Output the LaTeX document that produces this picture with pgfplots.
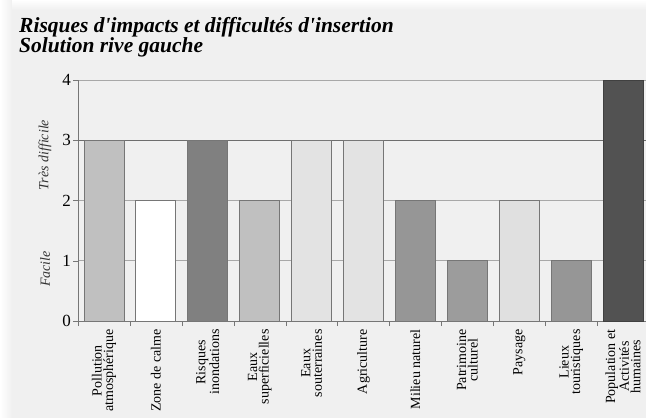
\documentclass[border=0pt]{standalone}
\usepackage{fontspec}
\setmainfont{Liberation Serif}[Ligatures=TeXOff]
\usepackage{pgfplots}
\pgfplotsset{compat=1.18}
\definecolor{bg}{HTML}{F0F0F0}
\definecolor{gridc}{HTML}{A8A8A8}
\definecolor{gridd}{HTML}{6E6E6E}
\definecolor{bd}{HTML}{767676}
\definecolor{cA}{HTML}{C0C0C0}
\definecolor{cB}{HTML}{FFFFFF}
\definecolor{cC}{HTML}{808080}
\definecolor{cD}{HTML}{C0C0C0}
\definecolor{cE}{HTML}{E3E3E3}
\definecolor{cF}{HTML}{E3E3E3}
\definecolor{cG}{HTML}{969696}
\definecolor{cH}{HTML}{9C9C9C}
\definecolor{cI}{HTML}{E0E0E0}
\definecolor{cJ}{HTML}{969696}
\definecolor{cK}{HTML}{525252}
\begin{document}
\begin{tikzpicture}[x=1pt,y=1pt]
\useasboundingbox (0,0) rectangle (646,418);
\fill[bg] (0,0) rectangle (646,418);
\shade[left color=white,right color=bg] (0,0) rectangle (12,418);
\shade[top color=white,bottom color=bg] (12,408) rectangle (646,418);
\node[anchor=base west, inner sep=0pt,
  font=\fontsize{21.5}{22}\selectfont\bfseries\itshape] at (19,385)
  {Risques d'impacts et difficultés d'insertion};
\node[anchor=base west, inner sep=0pt,
  font=\fontsize{21.5}{22}\selectfont\bfseries\itshape] at (19,365)
  {Solution rive gauche};
\node[rotate=90, font=\fontsize{14}{14}\selectfont\itshape, text=black!80] at (45,263) {Très difficile};
\node[rotate=90, font=\fontsize{14}{14}\selectfont\itshape, text=black!80] at (45,149) {Facile};
\begin{axis}[
  at={(78pt,97pt)}, anchor=south west,
  scale only axis, width=571pt, height=241pt,
  xmin=-0.5, xmax=10.5, ymin=0, ymax=4,
  axis x line*=bottom, axis y line*=left,
  axis line style={-, draw=bd},
  ytick={0,1,2,3,4},
  xtick={0,...,10},
  xticklabels={{Pollution\\atmosphérique},{Zone de calme},{Risques\\inondations},{Eaux\\superficielles},{Eaux\\souterraines},{Agriculture},{Milieu naturel},{Patrimoine\\culturel},{Paysage},{Lieux\\touristiques},{Population et\\Activités\\humaines}},
  minor xtick={-0.5,0.5,...,10.5},
  tick align=outside,
  major tick length=5pt, minor tick length=5pt,
  tick style={draw=bd},
  major x tick style={draw=none},
  ymajorgrids, grid style={draw=gridc, line width=0.8pt},
  extra y ticks={3}, extra y tick labels={},
  extra y tick style={grid style={draw=gridd, line width=0.8pt}},
  /pgf/number format/assume math mode=true,
  yticklabel style={font=\fontsize{17}{17}\selectfont, xshift=1.5pt},
  xticklabel style={rotate=90, anchor=east, align=center, font=\fontsize{14}{11.5}\selectfont},
  every axis plot/.append style={ybar, bar width=40pt, bar shift=0pt, draw=bd, line width=0.8pt},
  clip=false,
]
\addplot[fill=cA] coordinates {(0,3)};
\addplot[fill=cB] coordinates {(1,2)};
\addplot[fill=cC] coordinates {(2,3)};
\addplot[fill=cD] coordinates {(3,2)};
\addplot[fill=cE] coordinates {(4,3)};
\addplot[fill=cF] coordinates {(5,3)};
\addplot[fill=cG] coordinates {(6,2)};
\addplot[fill=cH] coordinates {(7,1)};
\addplot[fill=cI] coordinates {(8,2)};
\addplot[fill=cJ] coordinates {(9,1)};
\addplot[fill=cK, draw=black!75] coordinates {(10,4)};
\end{axis}
\end{tikzpicture}
\end{document}
